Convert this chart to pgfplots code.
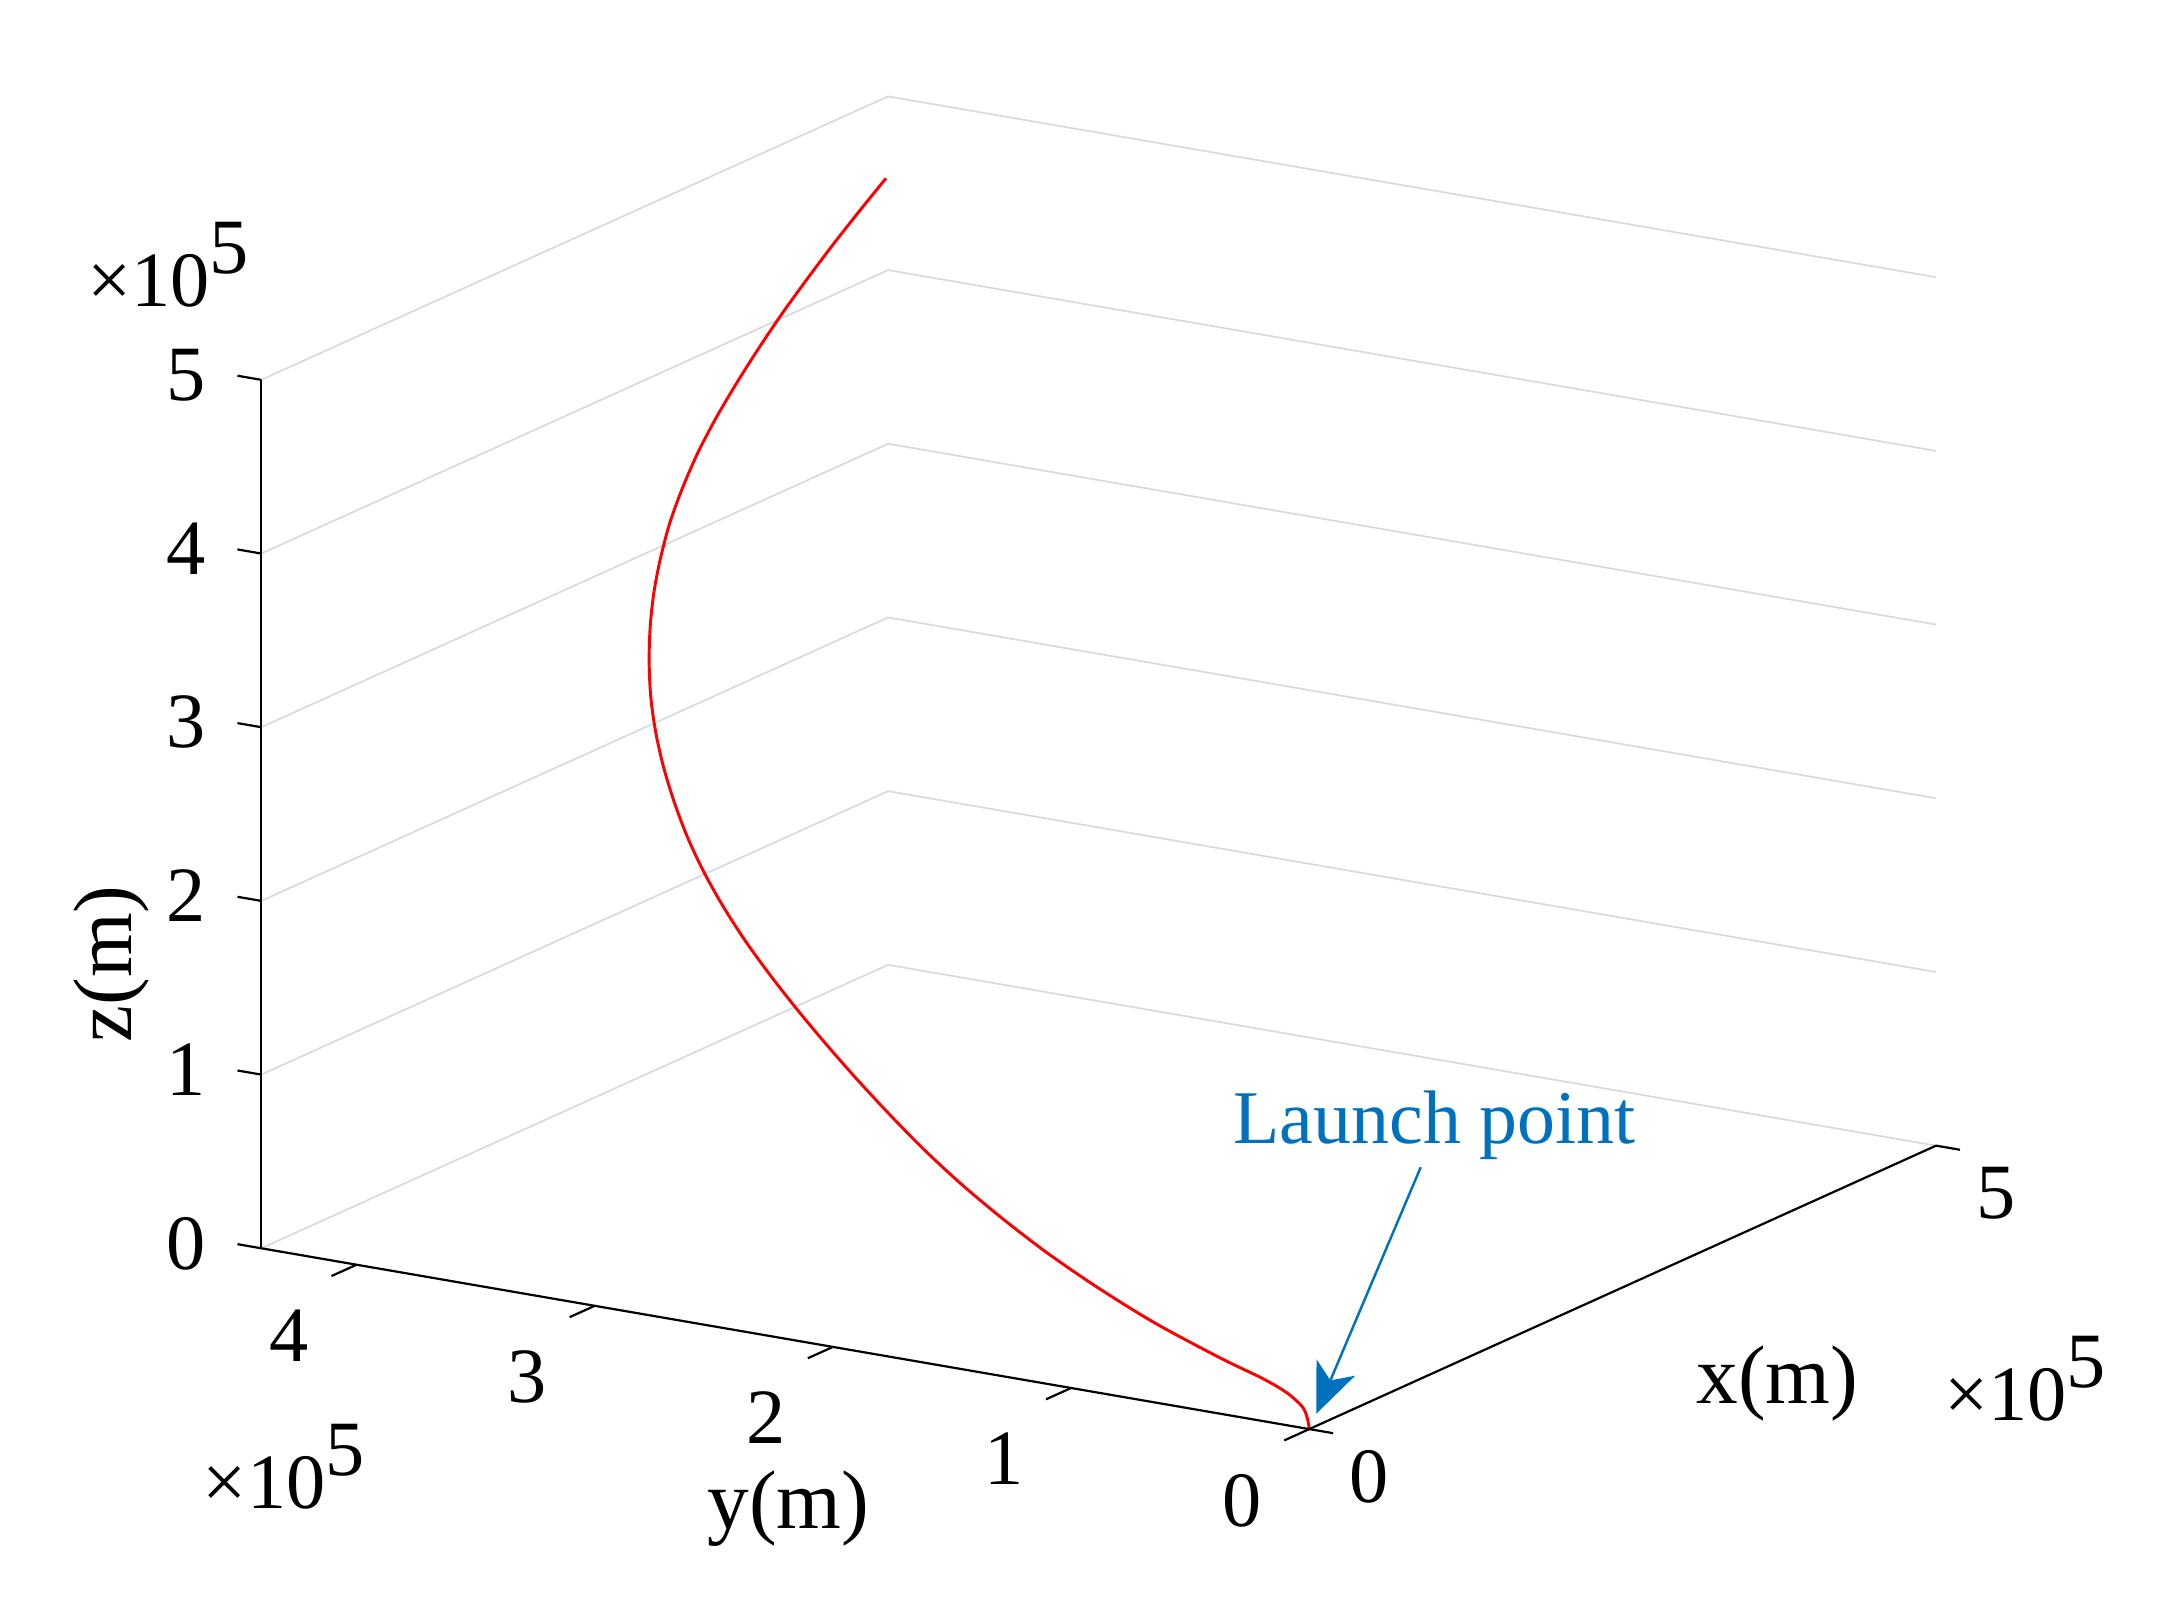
\documentclass[border=0pt]{standalone}
\usepackage{pgfplots}
\pgfplotsset{compat=1.18}
\usepackage{fontspec}
\setmainfont{Liberation Serif}
\usetikzlibrary{arrows.meta}

\definecolor{matblue}{RGB}{0,114,189}

% trajectory, in units of 1e5 m
\pgfplotstableread{
x y z
0.000 0.000 0.000
0.035 0.027 0.046
0.070 0.066 0.090
0.113 0.153 0.135
0.156 0.275 0.173
0.222 0.491 0.221
0.330 0.821 0.308
0.439 1.114 0.403
0.547 1.384 0.504
0.656 1.633 0.611
0.764 1.864 0.721
0.873 2.079 0.835
0.982 2.280 0.953
1.090 2.472 1.072
1.199 2.658 1.193
1.307 2.837 1.316
1.416 3.009 1.440
1.524 3.172 1.567
1.633 3.323 1.696
1.742 3.462 1.828
1.850 3.587 1.964
1.959 3.699 2.102
2.067 3.800 2.243
2.176 3.890 2.387
2.284 3.967 2.534
2.393 4.031 2.684
2.502 4.084 2.837
2.610 4.125 2.992
2.719 4.154 3.150
2.827 4.172 3.311
2.936 4.176 3.475
3.044 4.169 3.642
3.153 4.150 3.811
3.262 4.121 3.983
3.370 4.085 4.157
3.479 4.044 4.331
3.587 3.995 4.508
3.696 3.942 4.686
3.804 3.884 4.864
3.900 3.830 5.022
}\traj

\begin{document}
\begin{tikzpicture}
\begin{axis}[
  x={(0.90cm,0.407cm)}, y={(-1.71cm,0.295cm)}, z={(0cm,1.247cm)},
  xmin=0, xmax=5, ymin=0, ymax=4.4, zmin=0, zmax=5,
  xtick={0,5}, ytick={0,1,2,3,4}, ztick={0,1,2,3,4,5},
  zmajorgrids, grid style={black!15, line width=0.35pt},
  axis line style={draw=none},
  tick align=outside, major tick length=0.17cm,
  tick style={draw=none},
  ticklabel style={font=\fontsize{16}{16}\selectfont},
  yticklabel style={xshift=-0.12cm, yshift=-0.12cm},
  zticklabel style={xshift=-0.11cm, yshift=0.04cm},
  /pgf/number format/assume math mode=true,
  clip=false,
]
\addplot3[red, line width=0.6pt, smooth] table[x=x, y=y, z=z] {\traj};
% axis lines
\draw[black, line width=0.45pt] (axis cs:0,0,0) -- (axis cs:5,0,0);
\draw[black, line width=0.45pt] (axis cs:0,0,0) -- (axis cs:0,4.4,0);
\draw[black, line width=0.45pt] (axis cs:0,4.4,0) -- (axis cs:0,4.4,5);
% ticks
\draw[black, line width=0.45pt] (axis cs:0,0,0) -- (axis cs:-0.2,0,0)
  (axis cs:0,1,0) -- (axis cs:-0.2,1,0) (axis cs:0,2,0) -- (axis cs:-0.2,2,0)
  (axis cs:0,3,0) -- (axis cs:-0.2,3,0) (axis cs:0,4,0) -- (axis cs:-0.2,4,0);
\draw[black, line width=0.45pt] (axis cs:0,0,0) -- (axis cs:0,-0.1,0)
  (axis cs:5,0,0) -- (axis cs:5,-0.1,0);
\draw[black, line width=0.45pt] (axis cs:0,4.4,0) -- (axis cs:0,4.5,0)
  (axis cs:0,4.4,1) -- (axis cs:0,4.5,1) (axis cs:0,4.4,2) -- (axis cs:0,4.5,2)
  (axis cs:0,4.4,3) -- (axis cs:0,4.5,3) (axis cs:0,4.4,4) -- (axis cs:0,4.5,4)
  (axis cs:0,4.4,5) -- (axis cs:0,4.5,5);
\coordinate (O) at (axis cs:0,0,0);
\end{axis}
\path ([shift={(-9.40,-1.31)}]O) rectangle ([shift={(6.28,10.26)}]O);
\node[font=\fontsize{17}{17}\selectfont, rotate=90] at ([shift={(-8.60,3.34)}]O) {z(m)};
\node[font=\fontsize{17}{17}\selectfont] at ([shift={(-3.74,-0.57)}]O) {y(m)};
\node[font=\fontsize{17}{17}\selectfont] at ([shift={(3.36,0.33)}]O) {x(m)};
\node[font=\fontsize{16}{16}\selectfont, anchor=base west, inner sep=0pt] at ([shift={(-8.78,8.06)}]O) {×10\raisebox{0.42em}{5}};
\node[font=\fontsize{16}{16}\selectfont, anchor=base west, inner sep=0pt] at ([shift={(-7.95,-0.57)}]O) {×10\raisebox{0.42em}{5}};
\node[font=\fontsize{16}{16}\selectfont, anchor=base west, inner sep=0pt] at ([shift={(4.55,0.06)}]O) {×10\raisebox{0.42em}{5}};
\node[font=\fontsize{15.5}{15.5}\selectfont, text=matblue] at ([shift={(0.90,2.18)}]O) {Launch point};
\draw[matblue, line width=0.5pt, -{Stealth[length=0.36cm, width=0.3cm, inset=0.1cm]}] ([shift={(0.80,1.88)}]O) -- ([shift={(0.05,0.11)}]O);
\end{tikzpicture}
\end{document}
